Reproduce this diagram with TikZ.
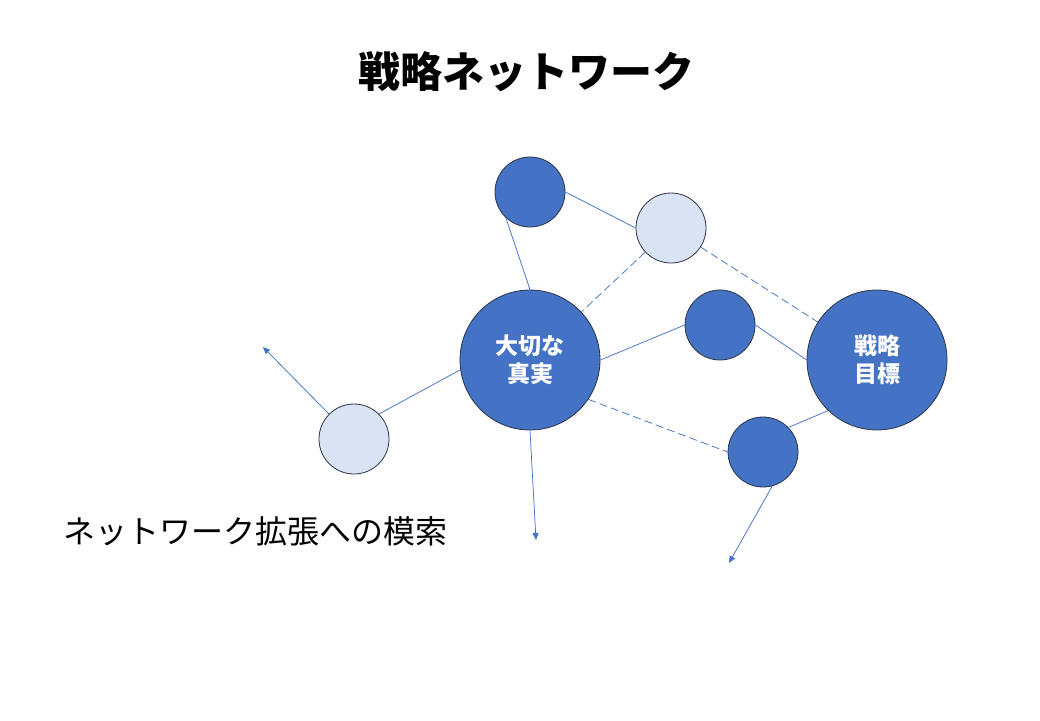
\documentclass[tikz,border=0pt]{standalone}
\usepackage{fontspec}
\setmainfont{Noto Sans CJK JP}
\usetikzlibrary{arrows.meta,positioning,calc}
\definecolor{accent}{HTML}{4472C4}
\definecolor{pale}{HTML}{DAE3F3}
\definecolor{rim}{HTML}{2B3445}

\begin{document}
\begin{tikzpicture}[x=1pt,y=-1pt,
  hub/.style={circle,draw=rim,line width=0.8pt,fill=accent,minimum size=140pt,inner sep=0pt,
    text=white,align=center,font=\bfseries\fontsize{23}{28}\selectfont},
  dot/.style={circle,draw=rim,line width=0.8pt,fill=accent,minimum size=70pt,inner sep=0pt},
  spot/.style={dot,fill=pale},
  link/.style={accent,line width=0.75pt},
  weak/.style={link,dash pattern=on 8pt off 4pt},
  probe/.style={link,-{Triangle[length=7pt,width=6pt]}}]
  \useasboundingbox (0,0) rectangle (1040,720);
  \node[font=\bfseries\fontsize{42}{50}\selectfont] (title) at (526,72) {戦略ネットワーク};
  \node[hub] (truth) at (530,360) {大切な\\真実};
  \node[hub] (goal) at (877,360) {戦略\\目標};
  \node[dot] (top) at (530,192) {};
  \node[spot] (upper) at (671,228) {};
  \node[dot] (mid) at (720,325) {};
  \node[dot] (low) at (763,452) {};
  \node[spot] (left) at (354,439) {};
  \node[font=\fontsize{32}{38}\selectfont,anchor=west] (quest) at (60,531) {ネットワーク拡張への模索};
  \coordinate (outnw) at (263,347);
  \coordinate (outs) at (536,540);
  \coordinate (outsw) at (729,563);
  % links
  \draw[link] (top.227) -- (truth.north);
  \draw[link] (top.east) -- (upper.west);
  \draw[weak] (upper) -- (truth);
  \draw[weak] (upper) -- (goal);
  \draw[link] (truth.east) -- (mid.west);
  \draw[link] (mid.east) -- (goal.west);
  \draw[weak] (truth.-34) -- (low.west);
  \draw[link] (low.44) -- (goal.226);
  \draw[link] (truth.188) -- (left.45);
  % open ends
  \draw[probe] (left.135) -- (outnw);
  \draw[probe] (truth.south) -- (outs);
  \draw[probe] (low.-75) -- (outsw);
\end{tikzpicture}
\end{document}
